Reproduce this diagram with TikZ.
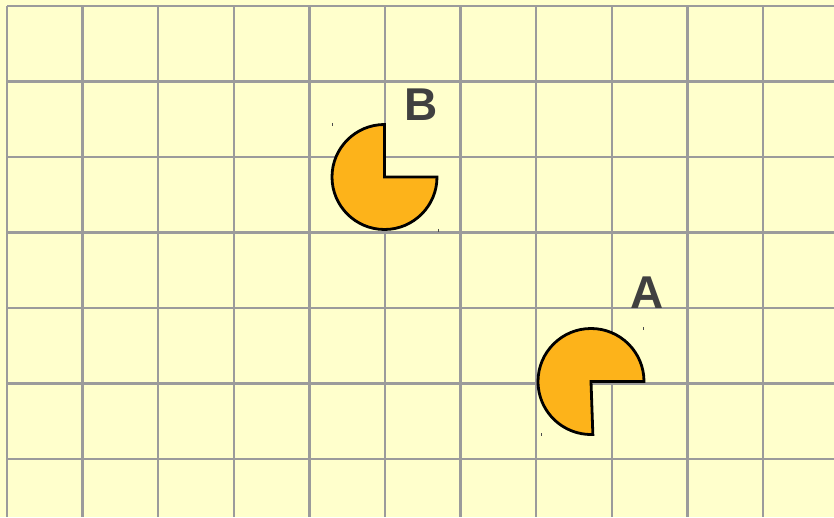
\documentclass[tikz,border=0pt]{standalone}
\usepackage{fontspec}
\setmainfont{Liberation Sans}
\definecolor{bgyellow}{HTML}{FFFFCC}
\definecolor{gridgray}{HTML}{9B9B9B}
\definecolor{pacorange}{HTML}{FDB31A}
\definecolor{labelgray}{HTML}{404040}
\tikzset{
  gridline/.style={draw=gridgray, line width=2.3pt},
  pacman/.style={draw=black, fill=pacorange, line width=2.8pt, line join=miter},
  letter/.style={text=labelgray, font=\bfseries\fontsize{46}{46}\selectfont, inner sep=0pt},
  tick/.style={draw=black!70, line width=0.9pt}
}
\begin{document}
\begin{tikzpicture}[x=1pt,y=1pt]
\useasboundingbox (0,0) rectangle (834,517);
\fill[bgyellow] (0,0) rectangle (834,517);
\begin{scope}
\clip (0,0) rectangle (834,517);
\foreach \i in {0,...,11} {
  \draw[gridline] ({7+75.6*\i},{517-6}) -- ({7+75.6*\i},0);
}
\foreach \j in {0,...,6} {
  \draw[gridline] (7,{517-6-75.5*\j}) -- (834,{517-6-75.5*\j});
}
\end{scope}
% Pacman B
\coordinate (cB) at (384.5,340);
\draw[pacman] (cB) -- ++(90:52.5) arc[start angle=90, end angle=360, radius=52.5] -- cycle;
% Pacman A
\coordinate (cA) at (591,135.5);
\draw[pacman] (cA) -- ++(0:53) arc[start angle=0, end angle=272, radius=53] -- cycle;
% labels
\node[letter] (lB) at (421.5,412) {B};
\node[letter] (lA) at (647.5,224) {A};
% tiny ticks
\draw[tick] (332,394) -- (332,391);
\draw[tick] (438,288) -- (438,285);
\draw[tick] (643,190) -- (643,187);
\draw[tick] (541,84) -- (541,81);
\end{tikzpicture}
\end{document}
